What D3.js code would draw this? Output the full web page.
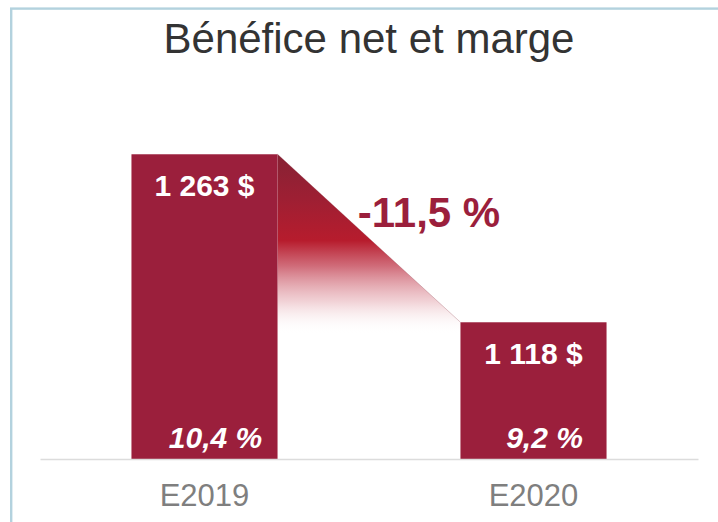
<!DOCTYPE html>
<html>
<head>
<meta charset="utf-8">
<script src="https://cdn.jsdelivr.net/npm/d3@7"></script>
<style>
  html, body { margin: 0; padding: 0; background: #fff; }
  svg { display: block; font-family: "Liberation Sans", Arial, sans-serif; }
</style>
</head>
<body>
<div id="chart"></div>
<script>
// Data
const years = ['E2019', 'E2020'];
const netIncome = [1263, 1118];
const incomeLabels = ['1 263 $', '1 118 $'];
const marginLabels = ['10,4 %', '9,2 %'];
const changeLabel = '-11,5 %';

const W = 718, H = 522;
const barColor = '#9b1f3c';

const svg = d3.select('#chart').append('svg')
  .attr('width', W)
  .attr('height', H);

const defs = svg.append('defs');

// frame (only left and top edges are visible in the picture)
svg.append('rect')
  .attr('x', 11.2).attr('y', 8.6)
  .attr('width', 800).attr('height', 600)
  .attr('fill', 'none')
  .attr('stroke', '#b3d2de')
  .attr('stroke-width', 2.4);

// title
svg.append('text')
  .attr('x', 369)
  .attr('y', 53)
  .attr('text-anchor', 'middle')
  .attr('font-size', '42px')
  .attr('fill', '#333')
  .text('Bénéfice net et marge');

// scales: the value axis does not start at zero
const x = d3.scaleBand()
  .domain(years)
  .range([40, 698])
  .paddingInner(0.556)
  .paddingOuter(0.278);

const y = d3.scaleLinear()
  .domain([1000, 1300])
  .range([459, 111.4]);

const base = y(1000);

// gradient wedge between the two bar tops
const grad = defs.append('linearGradient')
  .attr('id', 'wedge')
  .attr('gradientUnits', 'userSpaceOnUse')
  .attr('x1', 0).attr('x2', 0)
  .attr('y1', y(netIncome[0])).attr('y2', y(netIncome[1]) + 12);

[
  [0.00, '#862234', 1],
  [0.25, '#9e1f33', 1],
  [0.48, '#b71c2d', 1],
  [0.62, '#c03a4c', 0.75],
  [0.82, '#d8808c', 0.35],
  [1.00, '#ffffff', 0]
].forEach(([o, c, a]) => {
  grad.append('stop')
    .attr('offset', o)
    .attr('stop-color', c)
    .attr('stop-opacity', a);
});

const xr = x(years[0]) + x.bandwidth();
const xl = x(years[1]);
const wedgeBottom = y(netIncome[1]) + 14;

svg.append('path')
  .attr('d', d3.line()([
    [xr, y(netIncome[0])],
    [xl, y(netIncome[1])],
    [xl, wedgeBottom],
    [xr, wedgeBottom]
  ]) + 'Z')
  .attr('fill', 'url(#wedge)');

// faint shadow along the diagonal edge
svg.append('line')
  .attr('x1', xr).attr('y1', y(netIncome[0]))
  .attr('x2', xl).attr('y2', y(netIncome[1]))
  .attr('stroke', '#7a1f2e')
  .attr('stroke-opacity', 0.25)
  .attr('stroke-width', 1);

// bars
svg.selectAll('.bar')
  .data(netIncome)
  .join('rect')
  .attr('class', 'bar')
  .attr('x', (d, i) => x(years[i]))
  .attr('y', d => y(d))
  .attr('width', x.bandwidth())
  .attr('height', d => base - y(d))
  .attr('fill', barColor);

// axis (baseline + category labels)
const axis = svg.append('g')
  .attr('transform', `translate(0,${base})`)
  .call(d3.axisBottom(x).tickSize(0).tickSizeOuter(0));

axis.select('.domain')
  .attr('stroke', '#dcdcdc')
  .attr('stroke-width', 1.5);

axis.selectAll('.tick text')
  .attr('y', 47)
  .attr('dy', 0)
  .attr('font-size', '31px')
  .attr('font-family', '"Liberation Sans", Arial, sans-serif')
  .attr('fill', '#7f7f7f');

// value labels at bar tops
svg.selectAll('.val')
  .data(netIncome)
  .join('text')
  .attr('class', 'val')
  .attr('x', (d, i) => x(years[i]) + x.bandwidth() / 2)
  .attr('y', d => y(d) + 42)
  .attr('text-anchor', 'middle')
  .attr('font-size', '30px')
  .attr('font-weight', 'bold')
  .attr('fill', '#fff')
  .text((d, i) => incomeLabels[i]);

// margin labels at bar bottoms
svg.selectAll('.margin')
  .data(marginLabels)
  .join('text')
  .attr('class', 'margin')
  .attr('x', (d, i) => x(years[i]) + x.bandwidth() / 2 + 11)
  .attr('y', base - 11)
  .attr('text-anchor', 'middle')
  .attr('font-size', '30px')
  .attr('font-weight', 'bold')
  .attr('font-style', 'italic')
  .attr('fill', '#fff')
  .text(d => d);

// change label
svg.append('text')
  .attr('x', (xr + xl) / 2 + 60)
  .attr('y', 227)
  .attr('text-anchor', 'middle')
  .attr('font-size', '42px')
  .attr('font-weight', 'bold')
  .attr('fill', barColor)
  .text(changeLabel);
</script>
</body>
</html>
